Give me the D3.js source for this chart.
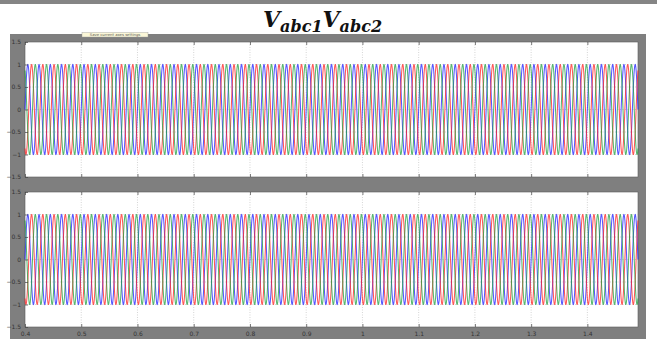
<!DOCTYPE html>
<html>
<head>
<meta charset="utf-8">
<script src="https://cdn.jsdelivr.net/npm/d3@7/dist/d3.min.js"></script>
<style>
  html, body { margin: 0; padding: 0; background: #fff; }
  svg { display: block; }
</style>
</head>
<body>
<svg id="chart" width="657" height="344"></svg>
<script>
// Three-phase voltages of the two converters (per-unit), 50 Hz
const phaseNames = ["a", "b", "c"];
const phaseAnglesDeg = [0, -120, 120];
const amplitudesAbc1 = [1, 1, 1];
const amplitudesAbc2 = [1, 1, 1];
const frequencyHz = 50;
const timeRange = [0.4, 1.49];
const xTickValues = [0.4, 0.5, 0.6, 0.7, 0.8, 0.9, 1, 1.1, 1.2, 1.3, 1.4];
const yTickValues = [-1.5, -1, -0.5, 0, 0.5, 1, 1.5];

const phaseColors = ["#1f1fff", "#ff1f1f", "#1f9f3f"];

const svg = d3.select("#chart");

// window chrome
svg.append("rect").attr("x", 0).attr("y", 0).attr("width", 657).attr("height", 4).attr("fill", "#858585");
svg.append("rect").attr("x", 10).attr("y", 34).attr("width", 636).attr("height", 305).attr("fill", "#7f7f7f");

// title: V_abc1 V_abc2
const title = svg.append("text")
  .attr("x", 263).attr("y", 27)
  .attr("font-family", "DejaVu Serif, serif")
  .attr("font-weight", "bold").attr("font-style", "italic")
  .attr("fill", "#111");
title.append("tspan").attr("font-size", 22).text("V");
title.append("tspan").attr("font-size", 16).attr("dy", 5).text("abc1");
title.append("tspan").attr("font-size", 22).attr("dy", -5).text("V");
title.append("tspan").attr("font-size", 16).attr("dy", 5).text("abc2");

const x = d3.scaleLinear().domain(timeRange).range([25, 638]);

// sample times for the waveforms
const step = 0.0002;
const times = d3.range(timeRange[0], timeRange[1] + step / 2, step);

function drawPanel(top, bottom, amplitudes) {
  const y = d3.scaleLinear().domain([-1.5, 1.5]).range([bottom, top]);
  const g = svg.append("g");

  g.append("rect")
    .attr("x", x.range()[0]).attr("y", top)
    .attr("width", x.range()[1] - x.range()[0]).attr("height", bottom - top)
    .attr("fill", "#fff").attr("stroke", "#5a5a5a").attr("stroke-width", 0.6);

  // dashed grid
  g.append("g").selectAll("line").data(xTickValues.slice(1)).join("line")
    .attr("x1", d => x(d)).attr("x2", d => x(d))
    .attr("y1", top).attr("y2", bottom)
    .attr("stroke", "#b8b8b8").attr("stroke-width", 0.6).attr("stroke-dasharray", "1,1.5");
  g.append("g").selectAll("line").data(yTickValues.slice(1, -1)).join("line")
    .attr("x1", x.range()[0]).attr("x2", x.range()[1])
    .attr("y1", d => y(d)).attr("y2", d => y(d))
    .attr("stroke", "#b8b8b8").attr("stroke-width", 0.6).attr("stroke-dasharray", "1,1.5");

  // waveforms
  const line = d3.line().x(d => x(d[0])).y(d => y(d[1]));
  phaseNames.forEach((name, i) => {
    const phi = phaseAnglesDeg[i] * Math.PI / 180;
    const pts = times.map(t => [t, amplitudes[i] * Math.sin(2 * Math.PI * frequencyHz * t + phi)]);
    g.append("path").datum(pts)
      .attr("d", line)
      .attr("fill", "none")
      .attr("stroke", phaseColors[i])
      .attr("stroke-opacity", 0.75)
      .attr("stroke-width", 1.05);
  });

  // axes with inward ticks
  const xAxis = d3.axisBottom(x).tickValues(xTickValues).tickSize(-3).tickPadding(5)
    .tickFormat(d3.format("~g"));
  const xa = g.append("g").attr("transform", `translate(0,${bottom})`).call(xAxis);
  const xTop = g.append("g").attr("transform", `translate(0,${top})`)
    .call(d3.axisTop(x).tickValues(xTickValues).tickSize(-3).tickFormat(""));
  const yAxis = d3.axisLeft(y).tickValues(yTickValues).tickSize(-3).tickPadding(4)
    .tickFormat(d3.format("~g"));
  const ya = g.append("g").attr("transform", `translate(${x.range()[0]},0)`).call(yAxis);
  [xa, xTop, ya].forEach(a => {
    a.select(".domain").remove();
    a.selectAll("line").attr("stroke", "#444").attr("stroke-width", 0.7);
    a.selectAll("text").attr("font-family", "DejaVu Sans, sans-serif").attr("font-size", 6).attr("fill", "#333");
  });
  return { xa };
}

const p1 = drawPanel(42, 177, amplitudesAbc1);
p1.xa.selectAll("text").remove();
drawPanel(192, 327, amplitudesAbc2);

// tooltip left over on the figure toolbar
svg.append("rect").attr("x", 82).attr("y", 32.5).attr("width", 66).attr("height", 4.5)
  .attr("fill", "#fbf7d8").attr("stroke", "#999").attr("stroke-width", 0.4);
svg.append("text").attr("x", 115).attr("y", 36.3).attr("text-anchor", "middle")
  .attr("font-family", "DejaVu Sans, sans-serif").attr("font-size", 3.8).attr("fill", "#555")
  .text("Save current axes settings");
</script>
</body>
</html>
